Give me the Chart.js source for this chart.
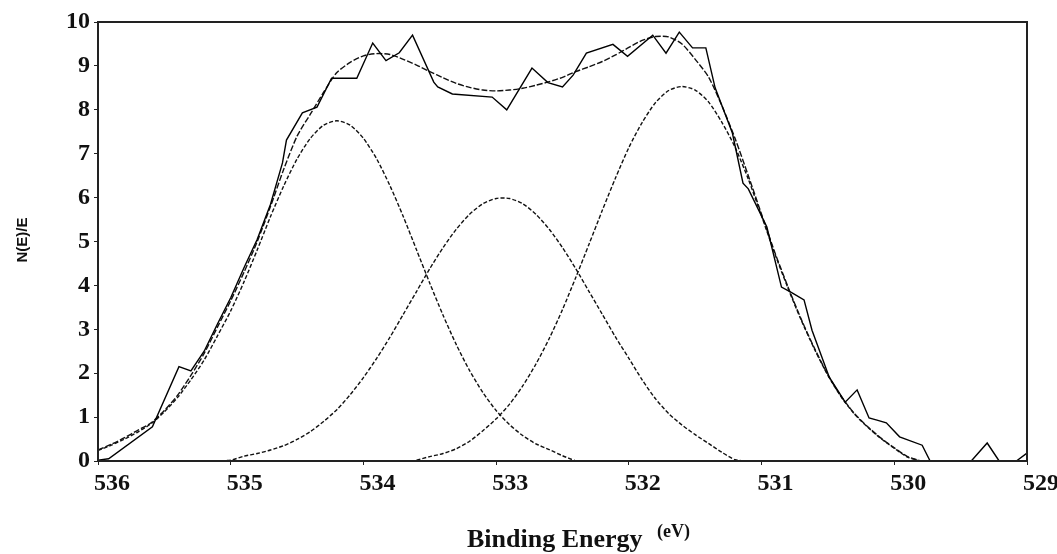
<!DOCTYPE html>
<html>
<head>
<meta charset="utf-8">
<script src="https://cdn.jsdelivr.net/npm/chart.js@4.4.0/dist/chart.umd.min.js"></script>
<style>
  html, body { margin: 0; padding: 0; background: #fff; }
  #wrap { width: 1057px; height: 554px; }
</style>
</head>
<body>
<div id="wrap"><canvas id="xps" width="1057" height="554"></canvas></div>
<script>
// binding energy grid (eV) for the fitted curves
var energy = [536.0, 535.9, 535.8, 535.7, 535.6, 535.5, 535.4, 535.3, 535.2, 535.1,
  535.0, 534.9, 534.8, 534.7, 534.6, 534.5, 534.4, 534.3, 534.2, 534.1,
  534.0, 533.9, 533.8, 533.7, 533.6, 533.5, 533.4, 533.3, 533.2, 533.1,
  533.0, 532.9, 532.8, 532.7, 532.6, 532.5, 532.4, 532.3, 532.2, 532.1,
  532.0, 531.9, 531.8, 531.7, 531.6, 531.5, 531.4, 531.3, 531.2, 531.1,
  531.0, 530.9, 530.8, 530.7, 530.6, 530.5, 530.4, 530.3, 530.2, 530.1,
  530.0, 529.9, 529.8, 529.7, 529.6, 529.5, 529.4, 529.3, 529.2, 529.1, 529.0];

// peak near 534.2 eV
var peak1 = [0.24, 0.36, 0.50, 0.66, 0.85, 1.12, 1.45, 1.85, 2.30, 2.85,
  3.42, 4.08, 4.81, 5.57, 6.27, 6.88, 7.35, 7.65, 7.75, 7.65,
  7.35, 6.88, 6.27, 5.57, 4.81, 4.05, 3.32, 2.65, 2.06, 1.56,
  1.15, 0.83, 0.58, 0.39, 0.26, 0.12, 0, null, null, null,
  null, null, null, null, null, null, null, null, null, null,
  null, null, null, null, null, null, null, null, null, null,
  null, null, null, null, null, null, null, null, null, null, null];

// peak near 533.0 eV
var peak2 = [null, null, null, null, null, null, null, 0, 0, 0,
  0.02, 0.11, 0.17, 0.25, 0.35, 0.49, 0.67, 0.90, 1.17, 1.51,
  1.90, 2.34, 2.82, 3.34, 3.86, 4.38, 4.86, 5.28, 5.62, 5.86,
  5.98, 5.98, 5.86, 5.62, 5.28, 4.86, 4.38, 3.86, 3.34, 2.82,
  2.34, 1.85, 1.42, 1.08, 0.82, 0.60, 0.40, 0.20, 0.03, 0,
  null, null, null, null, null, null, null, null, null, null,
  null, null, null, null, null, null, null, null, null, null, null];

// peak near 531.6 eV
var peak3 = [null, null, null, null, null, null, null, null, null, null,
  null, null, null, null, null, null, null, null, null, null,
  null, null, null, null, 0.02, 0.10, 0.17, 0.28, 0.45, 0.69,
  0.96, 1.29, 1.71, 2.21, 2.79, 3.45, 4.18, 4.94, 5.71, 6.45,
  7.14, 7.71, 8.16, 8.44, 8.53, 8.45, 8.18, 7.72, 7.15, 6.42,
  5.58, 4.72, 3.93, 3.20, 2.54, 1.95, 1.46, 1.07, 0.77, 0.51,
  0.29, 0.09, 0, null, null, null, null, null, null, null, null];

// sum of the fit
var envelope = [0.25, 0.38, 0.53, 0.70, 0.87, 1.15, 1.50, 1.95, 2.45, 3.05,
  3.65, 4.30, 5.00, 5.80, 6.65, 7.40, 7.90, 8.40, 8.85, 9.08,
  9.23, 9.28, 9.26, 9.15, 9.02, 8.87, 8.73, 8.60, 8.51, 8.45,
  8.43, 8.45, 8.49, 8.56, 8.64, 8.74, 8.87, 8.98, 9.10, 9.25,
  9.42, 9.58, 9.67, 9.66, 9.50, 9.15, 8.75, 8.10, 7.35, 6.50,
  5.62, 4.75, 3.96, 3.22, 2.56, 1.96, 1.47, 1.08, 0.78, 0.52,
  0.30, 0.10, 0, null, null, null, null, null, null, null, null];

// measured spectrum
var rawEnergy = [536.00, 535.92, 535.59, 535.39, 535.30, 535.20, 535.10, 535.00, 534.90, 534.80,
  534.70, 534.61, 534.58, 534.46, 534.35, 534.24, 534.05, 533.93, 533.83, 533.73,
  533.63, 533.47, 533.44, 533.33, 533.03, 532.92, 532.73, 532.61, 532.50, 532.42,
  532.32, 532.12, 532.01, 531.82, 531.72, 531.62, 531.52, 531.42, 531.35, 531.22,
  531.14, 531.10, 530.96, 530.85, 530.77, 530.68, 530.62, 530.49, 530.37, 530.28,
  530.19, 530.13, 530.06, 529.96, 529.79, 529.73, 529.42, 529.30, 529.21, 529.08, 529.00];
var rawCounts = [0.02, 0.05, 0.78, 2.15, 2.05, 2.50, 3.12, 3.72, 4.40, 5.05,
  5.85, 6.79, 7.31, 7.93, 8.06, 8.72, 8.72, 9.52, 9.12, 9.30,
  9.70, 8.63, 8.52, 8.36, 8.29, 8.00, 8.95, 8.62, 8.52, 8.79,
  9.29, 9.49, 9.22, 9.70, 9.29, 9.77, 9.41, 9.41, 8.50, 7.47,
  6.33, 6.20, 5.33, 3.96, 3.83, 3.67, 2.98, 1.91, 1.34, 1.62,
  0.98, 0.93, 0.87, 0.55, 0.36, 0, 0, 0.41, 0, 0, 0.18];

var xTicks = [536, 535, 534, 533, 532, 531, 530, 529];
var yTicks = [0, 1, 2, 3, 4, 5, 6, 7, 8, 9, 10];

function pts(xs, ys) {
  return xs.map(function(x, i) { return {x: x, y: ys[i]}; });
}

function fitLine(vals, dash) {
  return {
    data: pts(energy, vals),
    borderColor: '#111',
    borderWidth: 1.4,
    borderDash: dash,
    pointRadius: 0,
    tension: 0.25,
    spanGaps: false,
    fill: false
  };
}

// box round the plot and the axis titles
var frame = {
  id: 'frame',
  afterDatasetsDraw: function(chart) {
    var a = chart.chartArea, ctx = chart.ctx;
    ctx.save();
    ctx.strokeStyle = '#222';
    ctx.lineWidth = 2;
    ctx.strokeRect(a.left, a.top, a.right - a.left, a.bottom - a.top);
    ctx.restore();
  },
  afterDraw: function(chart) {
    var ctx = chart.ctx;
    ctx.save();
    ctx.fillStyle = '#111';
    ctx.textBaseline = 'alphabetic';
    ctx.textAlign = 'left';
    ctx.font = 'bold 26px "Liberation Serif"';
    ctx.fillText('Binding Energy', 467, 547);
    ctx.font = 'bold 18px "Liberation Serif"';
    ctx.fillText('(eV)', 657, 537);
    ctx.translate(27, 240);
    ctx.rotate(-Math.PI / 2);
    ctx.textAlign = 'center';
    ctx.font = 'bold 15px "Liberation Sans"';
    ctx.fillText('N(E)/E', 0, 0);
    ctx.restore();
  }
};

new Chart(document.getElementById('xps').getContext('2d'), {
  type: 'line',
  data: {
    datasets: [
      {
        data: pts(rawEnergy, rawCounts),
        borderColor: '#000',
        borderWidth: 1.4,
        pointRadius: 0,
        tension: 0,
        fill: false
      },
      fitLine(envelope, [6, 2]),
      fitLine(peak1, [4, 2]),
      fitLine(peak2, [4, 2]),
      fitLine(peak3, [4, 2])
    ]
  },
  options: {
    responsive: false,
    animation: false,
    devicePixelRatio: 1,
    layout: { padding: { top: 22, right: 30, left: 0, bottom: 0 } },
    plugins: { legend: { display: false }, tooltip: { enabled: false } },
    scales: {
      x: {
        type: 'linear',
        reverse: true,
        min: 529,
        max: 536,
        afterFit: function(s) { s.height = 93; },
        afterBuildTicks: function(s) { s.ticks = xTicks.map(function(v) { return {value: v}; }); },
        grid: { drawOnChartArea: false, drawTicks: true, tickLength: 4, color: '#222', lineWidth: 1 },
        border: { display: false },
        ticks: {
          color: '#111',
          padding: 4,
          labelOffset: 14,
          maxRotation: 0,
          font: { family: 'Liberation Serif', size: 24, weight: 'bold' }
        }
      },
      y: {
        min: 0,
        max: 10,
        afterFit: function(s) { s.width = 98; },
        afterBuildTicks: function(s) { s.ticks = yTicks.map(function(v) { return {value: v}; }); },
        grid: { drawOnChartArea: false, drawTicks: true, tickLength: 4, color: '#222', lineWidth: 1 },
        border: { display: false },
        ticks: {
          color: '#111',
          padding: 4,
          font: { family: 'Liberation Serif', size: 24, weight: 'bold' }
        }
      }
    }
  },
  plugins: [frame]
});
</script>
</body>
</html>
